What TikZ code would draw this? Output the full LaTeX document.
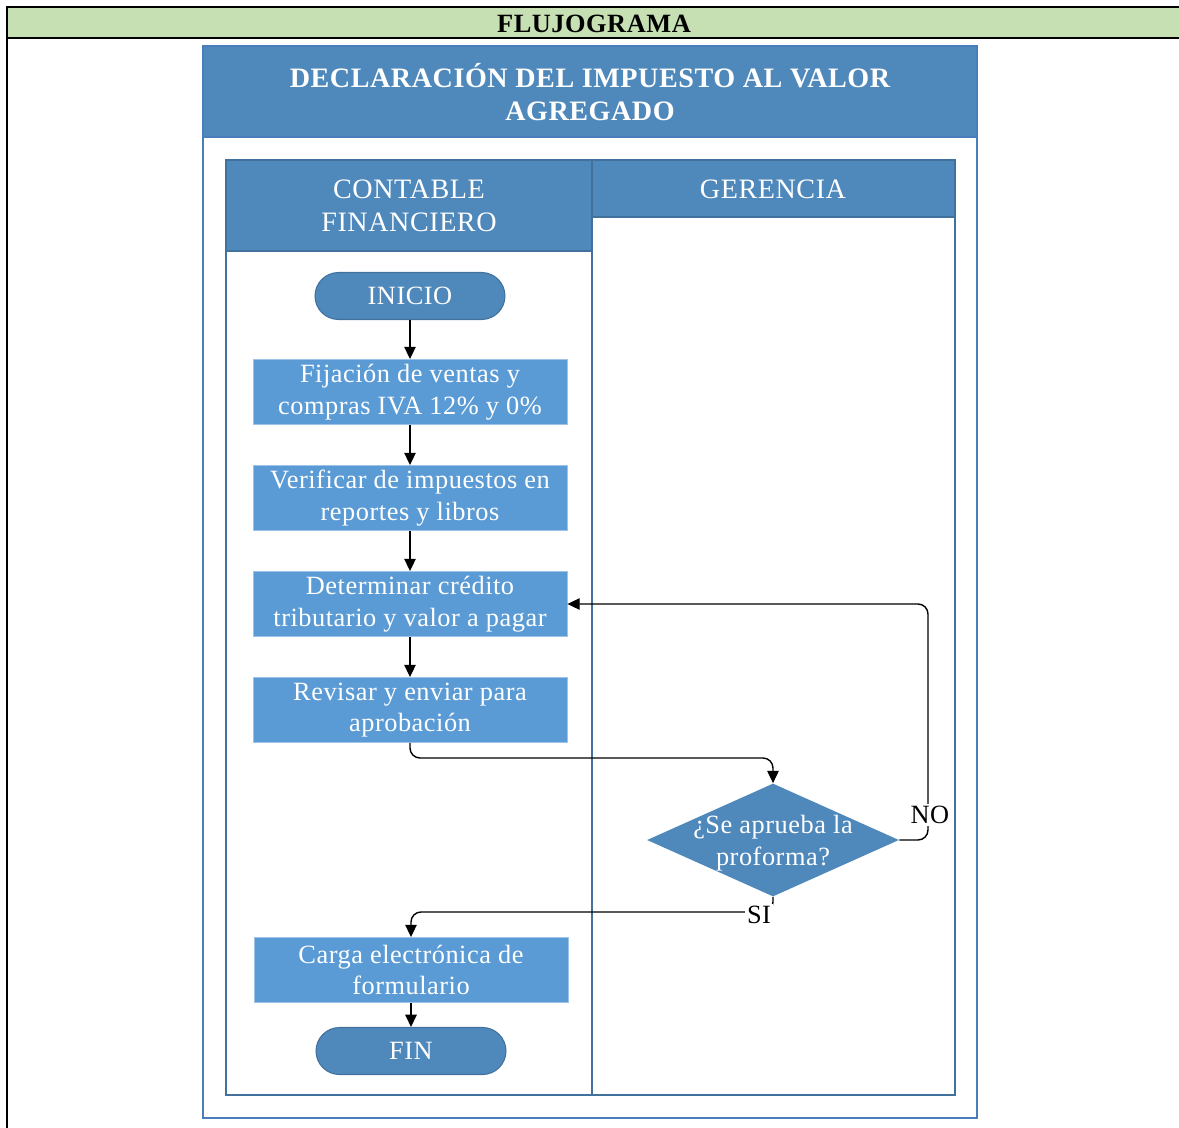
\documentclass[tikz,border=0pt]{standalone}
\usepackage{fontspec}
\setmainfont[LetterSpace=2]{Liberation Serif}
\usetikzlibrary{arrows.meta,shapes.geometric}

\definecolor{hdrblue}{HTML}{4F88BB}
\definecolor{boxblue}{HTML}{5B9BD5}
\definecolor{edgeblue}{HTML}{41719C}
\definecolor{poolblue}{HTML}{4A7EBB}
\definecolor{bandgreen}{HTML}{C6E0B4}

\tikzset{
  txt/.style={font=\fontsize{15}{18}\selectfont, align=center, inner sep=0pt},
  hdrtxt/.style={txt, text=white, font=\fontsize{16}{18.5}\selectfont},
  paso/.style={txt, text=white, fill=boxblue, draw=boxblue!60!white, line width=0.5pt,
    minimum width=6.28cm, minimum height=1.3cm},
  terminal/.style={txt, text=white, fill=hdrblue, draw=edgeblue, line width=0.6pt,
    rounded corners=0.47cm, minimum width=3.8cm, minimum height=0.94cm},
  decision/.style={diamond, fill=hdrblue, inner sep=0pt,
    minimum width=5.04cm, minimum height=2.26cm},
  flow/.style={-{Triangle[length=7pt,width=6.5pt]}, line width=0.8pt, rounded corners=0.2cm},
  lbl/.style={txt, fill=white, inner sep=1pt},
}

\begin{document}
\begin{tikzpicture}[x=0.02cm, y=-0.02cm]
    \useasboundingbox (0,0) rectangle (1179,1128);

    % banda superior
    \fill[bandgreen] (7,7) rectangle (1179,38);
    \draw[line width=1.2pt] (1179,7) -- (7,7) -- (7,1128);
    \draw[line width=1.2pt] (7,38) -- (1179,38);
    \node[txt, font=\fontsize{15}{18}\selectfont\bfseries] (flujo) at (594,24) {FLUJOGRAMA};

    % contenedor del proceso
    \fill[hdrblue] (203,46) rectangle (977,137);
    \draw[poolblue, line width=1pt] (203,46) rectangle (977,1118);
    \draw[poolblue, line width=1pt] (203,137) -- (977,137);
    \node[hdrtxt, font=\fontsize{16}{18.5}\selectfont\bfseries] (titulo) at (590,92)
        {DECLARACIÓN DEL IMPUESTO AL VALOR\\AGREGADO};

    % carriles
    \fill[hdrblue] (226,160) rectangle (592,251);
    \fill[hdrblue] (592,160) rectangle (955,217);
    \draw[edgeblue, line width=0.9pt] (226,160) rectangle (592,1095);
    \draw[edgeblue, line width=0.9pt] (592,160) rectangle (955,1095);
    \draw[edgeblue, line width=0.9pt] (226,251) -- (592,251);
    \draw[edgeblue, line width=0.9pt] (592,217) -- (955,217);
    \node[hdrtxt] (contable) at (409,206) {CONTABLE\\FINANCIERO};
    \node[hdrtxt] (gerencia) at (773,189) {GERENCIA};

    % pasos
    \node[terminal] (ini) at (410,296) {INICIO};
    \node[paso] (b1) at (410,392) {Fijación de ventas y\\compras IVA 12\% y 0\%};
    \node[paso] (b2) at (410,498) {Verificar de impuestos en\\reportes y libros};
    \node[paso] (b3) at (410,604) {Determinar crédito\\tributario y valor a pagar};
    \node[paso] (b4) at (410,710) {Revisar y enviar para\\aprobación};
    \node[decision] (dec) at (773,840) {};
    \node[txt, text=white] (dectxt) at (773,843) {¿Se aprueba la\\proforma?};
    \node[paso] (b5) at (411,970) {Carga electrónica de\\formulario};
    \node[terminal] (fin) at (411,1051) {FIN};

    % puntos de quiebre
    \coordinate (c1) at (773,758);
    \coordinate (c2) at (928,604);
    \coordinate (c3) at (411,912);

    % flechas
    \draw[flow] (ini) -- (b1);
    \draw[flow] (b1) -- (b2);
    \draw[flow] (b2) -- (b3);
    \draw[flow] (b3) -- (b4);
    \draw[flow] (b4.south) |- (c1) -- (dec.north);
    \draw[flow] (dec.east) -| (c2) -- (b3.east);
    \draw[flow] (dec.south) |- (c3) -- (b5.north);
    \draw[flow] (b5) -- (fin);

    % etiquetas
    \node[lbl] (no) at (930,815) {NO};
    \node[lbl] (si) at (759,915) {SI};
\end{tikzpicture}
\end{document}
